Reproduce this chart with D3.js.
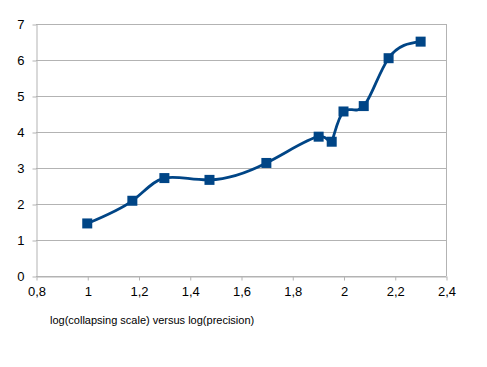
<!DOCTYPE html>
<html><head><meta charset="utf-8">
<script src="https://cdn.jsdelivr.net/npm/d3@7"></script>
<style>body{margin:0;background:#fff}svg{display:block}text{font-family:"Liberation Sans",Arial,sans-serif}</style>
</head><body><svg id="c" width="487" height="367"></svg>
<script>
const xValues = [1.0, 1.176, 1.301, 1.477, 1.699, 1.903, 1.954, 2.0, 2.079, 2.176, 2.301];
const yValues = [1.46, 2.09, 2.72, 2.67, 3.14, 3.87, 3.73, 4.57, 4.72, 6.05, 6.51];
const xTicks = [0.8, 1.0, 1.2, 1.4, 1.6, 1.8, 2.0, 2.2, 2.4];
const yTicks = [0, 1, 2, 3, 4, 5, 6, 7];
const axisTitle = "log(collapsing scale) versus log(precision)";

const svg = d3.select("#c");
const L = 36, R = 446, T = 24, B = 276;
const x = d3.scaleLinear().domain([0.8, 2.4]).range([L, R]);
const y = d3.scaleLinear().domain([0, 7]).range([B, T]);
const fmt = d => d3.format("")(+d.toFixed(1)).replace(".", ",");
const grid = "#b3b3b3";

// gridlines
svg.append("g").selectAll("line").data(yTicks).join("line")
  .attr("x1", L).attr("x2", R).attr("y1", d => y(d) + 0.5).attr("y2", d => y(d) + 0.5)
  .attr("stroke", grid).attr("stroke-width", 1);
// right border
svg.append("line").attr("x1", R + 0.5).attr("x2", R + 0.5).attr("y1", T).attr("y2", B)
  .attr("stroke", grid);

const yAxis = svg.append("g").attr("transform", `translate(${L + 0.5},0.5)`)
  .call(d3.axisLeft(y).tickValues(yTicks).tickSize(4).tickSizeOuter(0).tickPadding(8).tickFormat(d => d));
const xAxis = svg.append("g").attr("transform", `translate(0.5,${B + 0.5})`)
  .call(d3.axisBottom(x).tickValues(xTicks).tickSize(4).tickSizeOuter(0).tickPadding(6).tickFormat(fmt));
[yAxis, xAxis].forEach(a => {
  a.selectAll("path,line").attr("stroke", grid);
  a.selectAll("text").attr("fill", "#000").style("font-size", "13px");
});

const pts = xValues.map((v, i) => [x(v), y(yValues[i])]);
svg.append("path").datum(pts)
  .attr("d", d3.line().curve(d3.curveNatural))
  .attr("fill", "none").attr("stroke", "#004586").attr("stroke-width", 2.8);

svg.append("g").selectAll("rect").data(pts).join("rect")
  .attr("x", d => d[0] - 5).attr("y", d => d[1] - 5).attr("width", 10).attr("height", 10)
  .attr("fill", "#004586");

svg.append("text").attr("x", 50).attr("y", 324).style("font-size", "11px").attr("fill", "#000")
  .text(axisTitle);
</script></body></html>
